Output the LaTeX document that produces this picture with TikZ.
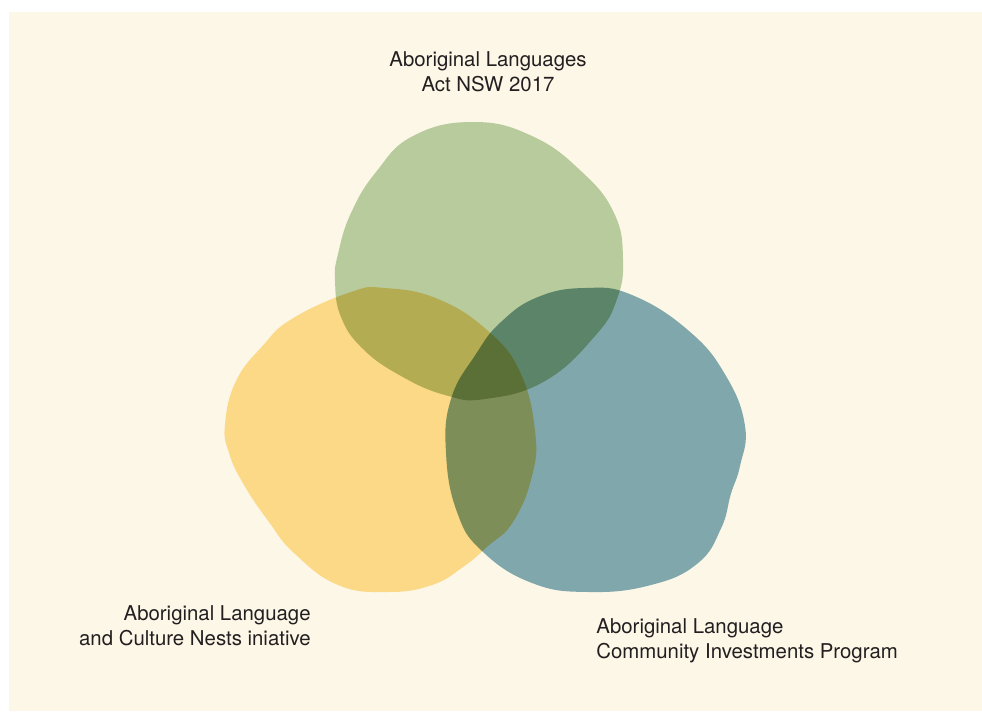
\documentclass[tikz,border=0pt]{standalone}
\usepackage{fontspec}
\setmainfont{TeX Gyre Heros}
\usepackage{tikz}
\usetikzlibrary{positioning, calc}

\definecolor{cream}{RGB}{253,247,232}
\definecolor{actgreen}{RGB}{183,203,157}
\definecolor{nestyellow}{RGB}{251,217,134}
\definecolor{cipblue}{RGB}{128,167,171}
\definecolor{labelgray}{RGB}{35,31,32}

\tikzset{
    blob/.style={smooth cycle, tension=0.75},
    setlabel/.style={text=labelgray, font=\fontsize{11.6}{14.2}\selectfont, inner sep=0pt}
}

\begin{document}
\begin{tikzpicture}
    \useasboundingbox (0,0) rectangle (19.64,14.22);
    \fill[cream] (0.18,0) rectangle (19.64,13.98);

    \begin{scope}[blend group=multiply]
        % Act NSW 2017
        \fill[actgreen] plot[blob] coordinates {(9.46,11.78) (10.64,11.5) (11.64,10.78) (12.28,9.96) (12.46,9.06) (12.34,8.24) (11.9,7.5) (10.9,6.6) (9.7,6.24) (8.9,6.32) (8.02,6.7) (7.26,7.24) (6.82,7.88) (6.7,8.6) (6.76,9.14) (7.02,9.96) (7.52,10.78) (8.26,11.5)};
        % Culture Nests
        \fill[nestyellow] plot[blob] coordinates {(7.7,8.46) (8.76,8.24) (9.76,7.6) (10.4,6.78) (10.7,5.6) (10.64,4.7) (10.26,3.78) (9.76,3.3) (9.26,2.88) (8.64,2.52) (7.76,2.38) (6.76,2.52) (5.88,3.16) (5.38,3.78) (4.88,4.52) (4.58,5.16) (4.5,5.74) (4.72,6.6) (5.25,7.3) (5.85,7.85) (7.02,8.38)};
        % Community Investments
        \fill[cipblue] plot[blob] coordinates {(11.7,8.46) (12.64,8.32) (13.78,7.6) (14.52,6.7) (14.9,5.7) (14.8,4.9) (14.62,4.35) (14.42,3.65) (13.95,2.95) (13.02,2.52) (11.78,2.38) (10.64,2.56) (9.64,3.2) (9.14,3.98) (8.92,5.16) (9.02,6.24) (9.52,7.14) (10.02,7.78) (10.76,8.28)};
    \end{scope}

    \node[setlabel, align=center] (act) at (9.76,12.78) {Aboriginal Languages\\Act NSW 2017};
    \node[setlabel, align=right, anchor=east] (nests) at (6.22,1.71) {Aboriginal Language\\and Culture Nests iniative};
    \node[setlabel, align=left, anchor=west] (cip) at (11.92,1.4) {Aboriginal Language\\Community Investments Program};
\end{tikzpicture}
\end{document}
